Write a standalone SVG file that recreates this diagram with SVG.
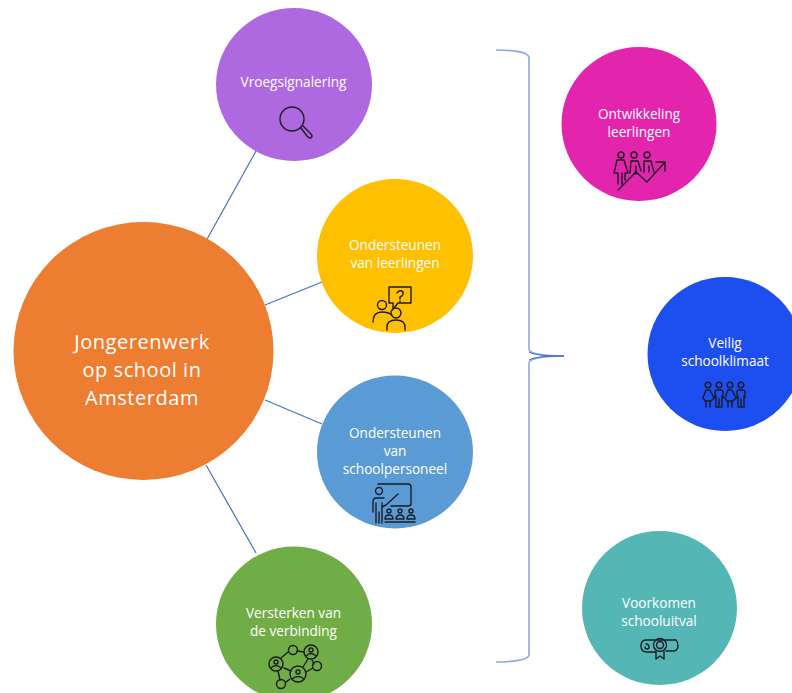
<svg xmlns="http://www.w3.org/2000/svg" width="792" height="693" viewBox="0 0 792 693">
<style>
.t{font-family:"Open Sans","Liberation Sans",sans-serif;font-size:13.600px;fill:#fff;text-anchor:middle}
.b{font-size:20px;letter-spacing:.55px}
.c{fill:none;stroke:#4472c4;stroke-width:1.2}
.i{fill:none;stroke:#1c1c22;stroke-width:1.4;stroke-linejoin:round;stroke-linecap:round}
</style>
<rect width="792" height="693" fill="#fff"/>
<g id="connectors">
<path class="c" d="M206 241L256 151M265 305L322 282M265 400L322 424M206 465L256 553"/>
<path d="M496 50C512 50 529 52 529 58V349C529 354 545 356 564 356C545 356 529 358 529 363V655C529 660 512 662 496 662" fill="none" stroke="#8eaadb" stroke-width="1.6"/>
<path d="M529 352C533 355 548 356 564 356C548 356 533 357 529 360" fill="none" stroke="#4472c4" stroke-width="1"/>
</g>
<g id="node-center"><ellipse cx="143.500" cy="351" rx="130" ry="129" fill="#ed7d31"/>
<text class="t b" x="142" y="349">Jongerenwerk</text><text class="t b" x="142" y="377">op school in</text><text class="t b" x="142" y="405">Amsterdam</text></g>
<g id="node-vroeg"><ellipse cx="294" cy="84.500" rx="78" ry="76.500" fill="#ae69e0"/>
<text class="t" x="293.500" y="87">Vroegsignalering</text>
<g class="i"><circle cx="292" cy="119" r="12"/><path d="M301 128L307 136Q310 139 311.500 137.500Q313 135.500 310 133L303 126"/></g></g>
<g id="node-ondersteunen-l"><ellipse cx="395" cy="256" rx="78" ry="77" fill="#ffc000"/>
<text class="t" x="395" y="250">Ondersteunen</text><text class="t" x="395" y="268">van leerlingen</text>
<g class="i"><path d="M389 287H411V303H398L393 309V303H389Z"/><path d="M397 293Q400 289 403 292Q404 295 400 297V299M400 301V302"/><circle cx="382" cy="305" r="4.500"/><path d="M373 322Q373 312 382 312Q388 312 392 315"/><circle cx="396" cy="313" r="5"/><path d="M387 330V327Q387 320 396 320Q405 320 405 327V330"/></g></g>
<g id="node-ondersteunen-s"><ellipse cx="395" cy="452" rx="78" ry="76.500" fill="#5b9bd5"/>
<text class="t" x="395" y="437.500">Ondersteunen</text><text class="t" x="395" y="455.500">van</text><text class="t" x="395" y="473.500">schoolpersoneel</text>
<g class="i"><path d="M378 484H408Q411 484 411 487V504Q411 506 408 506H391"/><circle cx="379" cy="491" r="3.500"/><path d="M386 505L398 494M384 498H376Q373 498 373 502V512M376 503V523M382 503V523M379 512V523M382 507L386 505"/><circle cx="389" cy="511" r="2"/><circle cx="400" cy="511" r="2"/><circle cx="411" cy="511" r="2"/><path d="M385 519Q385 515 389 515Q393 515 393 519ZM396 519Q396 515 400 515Q404 515 404 519ZM407 519Q407 515 411 515Q415 515 415 519ZM385 522H415"/></g></g>
<g id="node-versterken"><ellipse cx="294" cy="624" rx="78" ry="77.500" fill="#70ad47"/>
<text class="t" x="293.500" y="618">Versterken van</text><text class="t" x="293.500" y="636">de verbinding</text>
<g class="i" stroke-width="1.2"><circle cx="293" cy="650" r="4.500"/><circle cx="311" cy="652" r="7"/><circle cx="317" cy="666" r="4.500"/><circle cx="276" cy="664" r="7"/><circle cx="298" cy="674" r="8"/><circle cx="281" cy="684" r="4.500"/><path d="M297 651L304 652M288 652L281 658M308 659L303 667M314 664L312 660M306 672L313 668M278 671L280 680M284 668L291 671M286 682L290 679"/><circle cx="276" cy="662" r="2"/><circle cx="311" cy="650" r="2"/><circle cx="298" cy="672" r="2"/><path d="M271 668Q276 663 281 668M306 656Q311 651 316 656M292 679Q298 674 304 679"/></g></g>
<g id="node-ontwikkeling"><ellipse cx="639" cy="124" rx="77.500" ry="77" fill="#e325ae"/>
<text class="t" x="639" y="118.500">Ontwikkeling</text><text class="t" x="639" y="136.500">leerlingen</text>
<g class="i"><circle cx="621" cy="155" r="3"/><circle cx="634" cy="155" r="3"/><circle cx="647" cy="155" r="3"/><path d="M618 160H624L628 173H625V180M617 160L614 173H618V184M622 173V184M630 173L631 161H638L641 171M635 173V172M644 172V161H651L654 172M649 172V166M636 166V174M618 190L636 172L647 182L665 162M656 162H665V171"/></g></g>
<g id="node-veilig"><ellipse cx="725" cy="354" rx="77.500" ry="77" fill="#1c4ef0"/>
<text class="t" x="725" y="348">Veilig</text><text class="t" x="725" y="366">schoolklimaat</text>
<g class="i" stroke-width="1.6"><circle cx="708" cy="385" r="2.800"/><circle cx="719" cy="385" r="2.800"/><circle cx="730" cy="385" r="2.800"/><circle cx="741" cy="385" r="2.800"/><path d="M703 398L706 390H710L714 398L711 401H705ZM706 401V407M710 401V407M715 398V392Q715 390 717 390H721Q723 390 723 392V398M716 396V407H722V396M719 399V407M725 398L728 390H732L736 398L733 401H727ZM728 401V407M732 401V407M737 398V392Q737 390 739 390H743Q745 390 745 392V398M738 396V407H744V396M741 399V407"/></g></g>
<g id="node-voorkomen"><ellipse cx="659.500" cy="608" rx="77.500" ry="77" fill="#55b6b6"/>
<text class="t" x="659" y="608">Voorkomen</text><text class="t" x="659" y="626">schooluitval</text>
<g class="i" stroke-width="1.2"><circle cx="660" cy="645" r="6.500"/><circle cx="660" cy="645" r="3.500"/><path d="M656 651V659L660 656L664 659V651M654 640H676Q678 642 678 646Q678 650 674 651H666M654 640H646Q641 640 641 646Q641 652 647 652H655M646 644Q649 644 649 647Q649 649 647 649Q645 649 645 647"/></g></g>
</svg>
